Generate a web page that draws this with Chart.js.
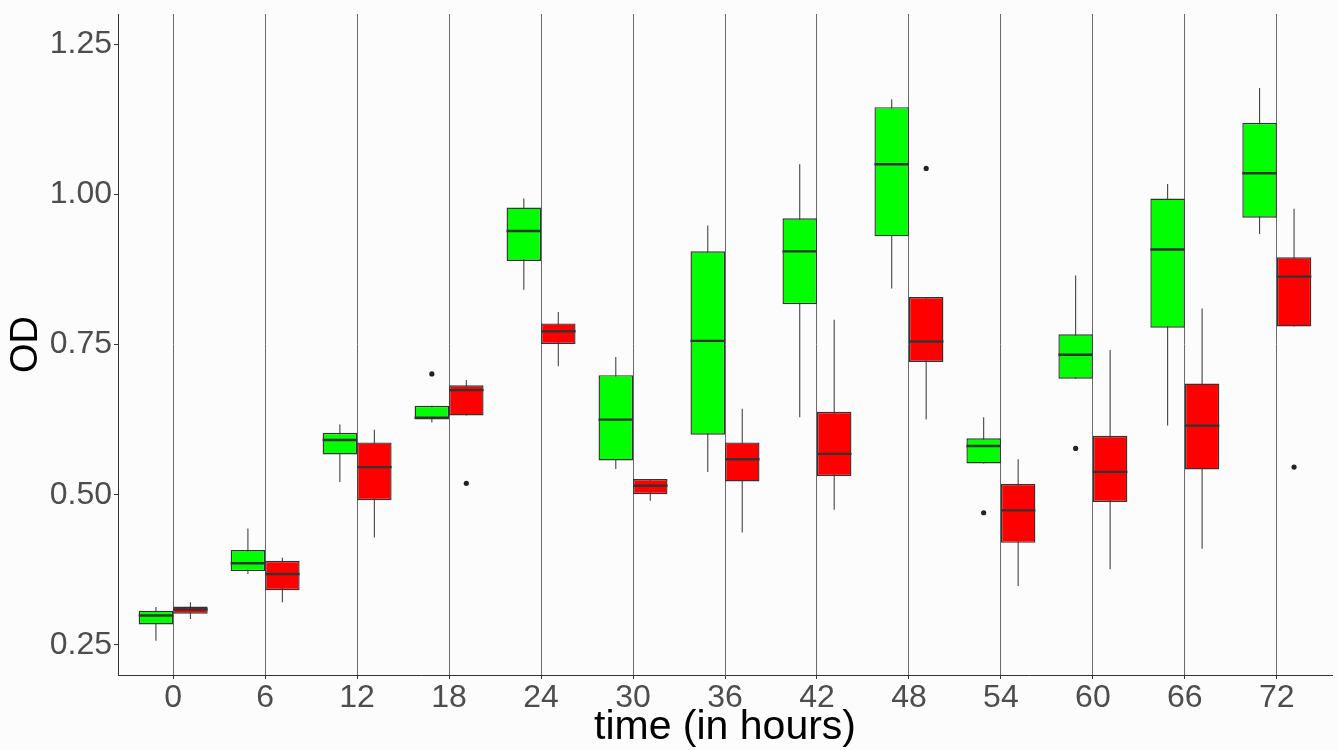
<!DOCTYPE html>
<html>
<head>
<meta charset="utf-8">
<script src="https://cdn.jsdelivr.net/npm/chart.js@4/dist/chart.umd.min.js"></script>
<style>
html,body{margin:0;padding:0;background:#fcfcfc;}
canvas{display:block;}
</style>
</head>
<body>
<canvas id="c" width="1338" height="750"></canvas>
<script>
// ---- data ----
const hours = [0, 6, 12, 18, 24, 30, 36, 42, 48, 54, 60, 66, 72];
const yTicks = [0.25, 0.50, 0.75, 1.00, 1.25];

const greenLow    = [0.257, 0.368, 0.521, 0.620, 0.841, 0.543, 0.538, 0.629, 0.843, 0.552, 0.693, 0.615, 0.934];
const greenQ1     = [0.284, 0.373, 0.567, 0.625, 0.889, 0.557, 0.600, 0.817, 0.930, 0.552, 0.693, 0.778, 0.961];
const greenMedian = [0.299, 0.386, 0.591, 0.628, 0.939, 0.625, 0.756, 0.905, 1.050, 0.581, 0.733, 0.908, 1.035];
const greenQ3     = [0.307, 0.408, 0.603, 0.648, 0.978, 0.699, 0.905, 0.960, 1.145, 0.594, 0.767, 0.993, 1.119];
const greenHigh   = [0.313, 0.444, 0.617, 0.648, 0.993, 0.729, 0.948, 1.050, 1.158, 0.629, 0.865, 1.017, 1.177];
const greenOutlierHours  = [18, 54, 60];
const greenOutlierValues = [0.701, 0.470, 0.577];

const redLow    = [0.293, 0.321, 0.429, 0.632, 0.714, 0.490, 0.437, 0.475, 0.625, 0.348, 0.376, 0.410, 0.780];
const redQ1     = [0.302, 0.341, 0.491, 0.632, 0.751, 0.501, 0.522, 0.531, 0.721, 0.420, 0.488, 0.542, 0.780];
const redMedian = [0.309, 0.368, 0.546, 0.674, 0.772, 0.515, 0.559, 0.568, 0.755, 0.474, 0.538, 0.615, 0.863];
const redQ3     = [0.314, 0.390, 0.587, 0.682, 0.785, 0.526, 0.587, 0.638, 0.829, 0.518, 0.598, 0.685, 0.895];
const redHigh   = [0.321, 0.395, 0.608, 0.691, 0.804, 0.526, 0.643, 0.791, 0.829, 0.559, 0.741, 0.810, 0.976];
const redOutlierHours  = [18, 48, 72];
const redOutlierValues = [0.519, 1.043, 0.546];

// ---- layout constants (style) ----
const STEP = 6;
const GROUP = 0.75;
const HALF = STEP * GROUP / 2;   // width of one box in hour units
const OFF = HALF / 2;            // center offset of each box
const FONT = "'Liberation Sans', Arial, Helvetica, sans-serif";
const LINE = '#333333';

function boxData(q1, q3) {
  return hours.map((h, i) => ({ x: h, y: [q1[i], q3[i]] }));
}
function segData(x0, x1, a, b) {
  const d = [];
  hours.forEach((h, i) => {
    d.push({ x: h + x0, y: a[i] }, { x: h + x1, y: b[i] }, { x: h + x1, y: null });
  });
  return d;
}
function outlierData(hs, vs, dx) {
  return hs.map((h, i) => ({ x: h + dx, y: vs[i] }));
}

const lineDefaults = { type: 'line', borderColor: LINE, pointRadius: 0, spanGaps: false, fill: false, tension: 0 };

new Chart(document.getElementById('c'), {
  type: 'bar',
  data: {
    datasets: [
      Object.assign({}, lineDefaults, { data: segData(-OFF, -OFF, greenLow, greenHigh), borderWidth: 1.1, borderColor: '#444', order: 5 }),
      Object.assign({}, lineDefaults, { data: segData(OFF, OFF, redLow, redHigh), borderWidth: 1.1, borderColor: '#444', order: 5 }),
      { type: 'bar', data: boxData(greenQ1, greenQ3), backgroundColor: '#00ff00', borderColor: LINE,
        borderWidth: 1.4, borderSkipped: false, barPercentage: 1, categoryPercentage: GROUP, order: 3 },
      { type: 'bar', data: boxData(redQ1, redQ3), backgroundColor: '#ff0000', borderColor: LINE,
        borderWidth: 1.4, borderSkipped: false, barPercentage: 1, categoryPercentage: GROUP, order: 3 },
      Object.assign({}, lineDefaults, { data: segData(-HALF, 0, greenMedian, greenMedian), borderWidth: 2.4, order: 1 }),
      Object.assign({}, lineDefaults, { data: segData(0, HALF, redMedian, redMedian), borderWidth: 2.4, order: 1 }),
      { type: 'scatter', data: outlierData(greenOutlierHours, greenOutlierValues, -OFF).concat(outlierData(redOutlierHours, redOutlierValues, OFF)),
        backgroundColor: '#222', borderWidth: 0, pointRadius: 2.6, order: 0 }
    ]
  },
  options: {
    responsive: false,
    animation: false,
    devicePixelRatio: 1,
    layout: { padding: { top: 14, right: 6, bottom: 0, left: 0 } },
    plugins: { legend: { display: false }, tooltip: { enabled: false } },
    scales: {
      x: {
        type: 'linear', min: -3.6, max: 75.6, offset: false,
        afterBuildTicks: s => { s.ticks = hours.map(h => ({ value: h })); },
        afterFit: s => { s.height = 75; s.paddingLeft = 0; s.paddingRight = 0; },
        grid: { offset: false, color: '#6b6b6b', lineWidth: 1, drawTicks: true, tickLength: 4, tickColor: LINE },
        border: { color: LINE, width: 1 },
        ticks: { color: '#4d4d4d', font: { family: FONT, size: 32 }, padding: 0, maxRotation: 0, autoSkip: false,
                 callback: v => String(v) },
        title: { display: true, text: 'time (in hours)', color: '#000', font: { family: FONT, size: 41, lineHeight: 1.1 },
                 padding: { top: 0, bottom: 0 } }
      },
      y: {
        type: 'linear', min: 0.2, max: 1.3,
        afterBuildTicks: s => { s.ticks = yTicks.map(v => ({ value: v })); },
        afterFit: s => { s.width = 118; s.paddingTop = 0; s.paddingBottom = 0; },
        grid: { drawOnChartArea: false, drawTicks: true, tickLength: 4, tickColor: LINE },
        border: { color: LINE, width: 1 },
        ticks: { color: '#4d4d4d', font: { family: FONT, size: 32 }, padding: 2,
                 callback: v => Number(v).toFixed(2) },
        title: { display: true, text: 'OD', color: '#000', font: { family: FONT, size: 38 },
                 padding: { top: 4, bottom: 0 } }
      }
    }
  }
});
</script>
</body>
</html>
